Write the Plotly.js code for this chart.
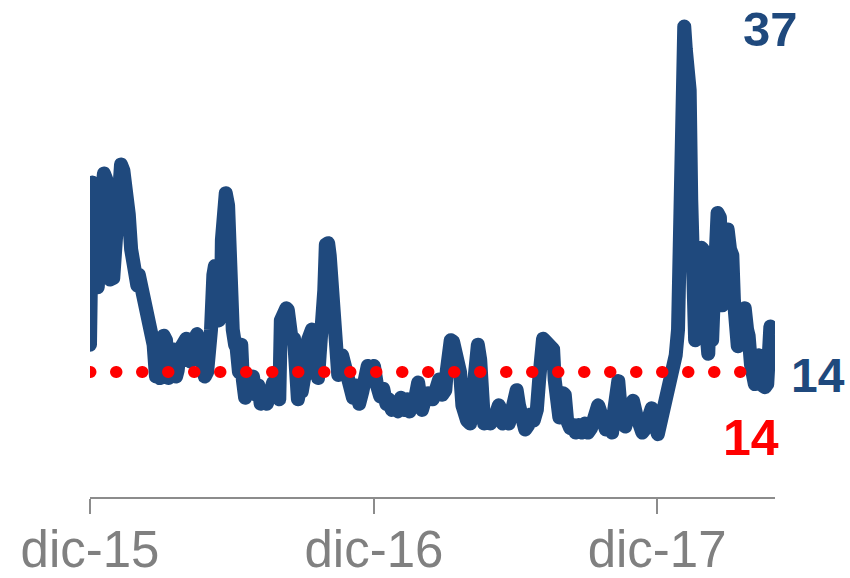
<!DOCTYPE html>
<html>
<head>
<meta charset="utf-8">
<script src="https://cdn.plot.ly/plotly-3.0.1.min.js"></script>
<style>
html, body { margin: 0; padding: 0; background: #fff; }
#chart { width: 850px; height: 578px; }
#chart .js-line { stroke-linejoin: round; stroke-linecap: round; }
</style>
</head>
<body>
<div id="chart"></div>
<script>
// Index level readings (daily-style trace), split by half-year
const datesH1_2016 = [
"2015-12-31","2016-01-01","2016-01-03","2016-01-06","2016-01-09","2016-01-10","2016-01-13","2016-01-15","2016-01-18","2016-01-21",
"2016-01-22","2016-01-23","2016-01-26","2016-01-30","2016-02-01","2016-02-04","2016-02-06","2016-02-09","2016-02-12","2016-02-14",
"2016-02-17","2016-02-19","2016-02-22","2016-02-24","2016-02-27","2016-03-01","2016-03-03","2016-03-07","2016-03-10","2016-03-12",
"2016-03-15","2016-03-17","2016-03-20","2016-03-22","2016-03-25","2016-03-28","2016-03-30","2016-04-02","2016-04-04","2016-04-07",
"2016-04-10","2016-04-12","2016-04-15","2016-04-17","2016-04-20","2016-04-22","2016-04-25","2016-04-29","2016-05-03","2016-05-05",
"2016-05-08","2016-05-10","2016-05-14","2016-05-17","2016-05-20","2016-05-22","2016-05-25","2016-05-27","2016-05-30","2016-06-01",
"2016-06-04","2016-06-07","2016-06-09","2016-06-12","2016-06-14","2016-06-17","2016-06-18","2016-06-21","2016-06-23","2016-06-26",
"2016-06-27","2016-06-30"
];
const valuesH1_2016 = [
15.8,22.1,26.5,26.3,21.4,19.6,22.1,25.7,27.1,26.7,
22.7,21.3,20.1,20.2,21.4,25.4,27.0,27.7,27.3,25.4,
25.0,24.4,22.1,21.1,21.5,19.7,20.4,19.2,18.8,19.0,
17.4,17.0,16.4,15.8,13.7,14.1,13.6,15.8,16.4,16.1,
13.6,14.0,15.5,14.8,13.7,14.1,15.5,15.8,16.2,15.1,
14.7,15.8,16.1,16.5,15.5,14.5,14.8,13.7,14.0,14.7,
16.8,20.4,21.0,19.4,17.4,18.8,22.7,25.4,25.8,25.0,
21.4,18.0
];

const datesH2_2016 = [
"2016-07-02","2016-07-05","2016-07-07","2016-07-10","2016-07-13","2016-07-15","2016-07-18","2016-07-22","2016-07-24","2016-07-28",
"2016-08-01","2016-08-04","2016-08-07","2016-08-11","2016-08-15","2016-08-19","2016-08-23","2016-08-27","2016-08-31","2016-09-02",
"2016-09-05","2016-09-09","2016-09-11","2016-09-14","2016-09-16","2016-09-19","2016-09-22","2016-09-24","2016-09-27","2016-09-29",
"2016-10-02","2016-10-04","2016-10-07","2016-10-10","2016-10-12","2016-10-15","2016-10-17","2016-10-20","2016-10-22","2016-10-25",
"2016-10-28","2016-10-30","2016-11-02","2016-11-04","2016-11-07","2016-11-10","2016-11-12","2016-11-15","2016-11-17","2016-11-20",
"2016-11-24","2016-11-28","2016-11-30","2016-12-04","2016-12-08","2016-12-12","2016-12-16","2016-12-19","2016-12-23","2016-12-27",
"2016-12-31"
];
const valuesH2_2016 = [
16.8,15.8,15.6,14.0,15.8,13.5,12.3,12.8,13.5,13.7,
12.5,13.1,11.9,12.3,11.9,12.9,13.3,12.5,12.2,17.4,
18.0,18.2,18.1,16.4,16.1,16.2,12.5,12.2,13.1,12.7,
13.6,13.8,16.1,16.8,16.8,15.5,13.7,13.6,15.1,16.8,
19.4,22.4,22.5,21.7,19.4,18.1,16.8,13.8,14.1,15.1,
14.3,14.0,12.8,12.3,13.1,11.9,12.7,13.5,14.4,14.1,
14.4
];

const datesH1_2017 = [
"2017-01-04","2017-01-08","2017-01-12","2017-01-16","2017-01-19","2017-01-23","2017-01-27","2017-01-31","2017-02-04","2017-02-08",
"2017-02-12","2017-02-15","2017-02-19","2017-02-23","2017-02-26","2017-02-28","2017-03-03","2017-03-07","2017-03-11","2017-03-13",
"2017-03-17","2017-03-21","2017-03-25","2017-03-29","2017-04-02","2017-04-04","2017-04-07","2017-04-09","2017-04-12","2017-04-14",
"2017-04-18","2017-04-21","2017-04-24","2017-04-26","2017-04-30","2017-05-04","2017-05-06","2017-05-09","2017-05-12","2017-05-14",
"2017-05-17","2017-05-19","2017-05-22","2017-05-26","2017-05-30","2017-06-02","2017-06-06","2017-06-10","2017-06-13","2017-06-15",
"2017-06-19","2017-06-23","2017-06-27"
];
const valuesH1_2017 = [
13.1,12.4,12.9,11.9,12.2,11.5,11.9,11.4,12.3,11.5,
12.2,11.4,11.8,12.5,13.3,12.5,11.5,12.2,12.6,12.5,
12.2,12.8,13.5,12.5,12.8,14.1,15.8,16.1,16.0,15.5,
15.1,14.0,11.8,11.0,10.8,10.6,11.5,14.1,15.8,15.8,
14.8,11.5,10.6,10.8,10.6,11.0,11.2,11.8,11.5,10.6,
11.0,10.6,11.4
];

const datesH2_2017 = [
"2017-07-01","2017-07-03","2017-07-06","2017-07-10","2017-07-14","2017-07-18","2017-07-21","2017-07-25","2017-07-29","2017-08-01",
"2017-08-03","2017-08-06","2017-08-08","2017-08-11","2017-08-14","2017-08-16","2017-08-19","2017-08-21","2017-08-24","2017-08-27",
"2017-08-29","2017-09-01","2017-09-03","2017-09-06","2017-09-10","2017-09-14","2017-09-17","2017-09-21","2017-09-25","2017-09-29",
"2017-10-03","2017-10-07","2017-10-11","2017-10-13","2017-10-16","2017-10-18","2017-10-22","2017-10-26","2017-10-30","2017-11-03",
"2017-11-05","2017-11-08","2017-11-11","2017-11-13","2017-11-16","2017-11-20","2017-11-23","2017-11-27","2017-11-30","2017-12-04",
"2017-12-08","2017-12-12","2017-12-15","2017-12-19","2017-12-22","2017-12-24","2017-12-27","2017-12-30"
];
const valuesH2_2017 = [
12.5,12.8,11.8,10.8,10.2,10.5,11.2,10.8,11.5,13.5,
15.8,16.2,16.1,16.0,15.8,15.6,15.5,13.5,11.2,11.0,
12.2,12.6,12.5,10.8,10.3,10.5,10.0,10.5,10.0,10.6,
10.0,10.3,10.8,11.5,11.8,11.5,10.5,10.2,10.4,10.0,
11.2,12.8,13.4,12.2,10.5,10.4,11.0,11.8,12.1,11.2,
10.3,10.0,10.2,10.8,11.4,11.6,10.8,10.0
];

const datesH1_2018 = [
"2018-01-01","2018-01-05","2018-01-09","2018-01-13","2018-01-17","2018-01-19","2018-01-22","2018-01-24","2018-01-27","2018-01-30",
"2018-02-01","2018-02-04","2018-02-06","2018-02-09","2018-02-11","2018-02-13","2018-02-14","2018-02-17","2018-02-18","2018-02-20",
"2018-02-23","2018-02-26","2018-02-28","2018-03-01","2018-03-04","2018-03-07","2018-03-09","2018-03-12","2018-03-14","2018-03-17",
"2018-03-19","2018-03-22","2018-03-25","2018-03-27","2018-03-30","2018-04-01","2018-04-04","2018-04-07","2018-04-09","2018-04-12",
"2018-04-14","2018-04-17","2018-04-21","2018-04-23","2018-04-26","2018-04-28","2018-05-01","2018-05-04","2018-05-06","2018-05-09",
"2018-05-11","2018-05-14","2018-05-16","2018-05-19","2018-05-22","2018-05-24","2018-05-26","2018-05-27"
];
const valuesH1_2018 = [
9.9,10.8,11.6,12.5,13.0,13.5,14.8,15.1,16.8,27.3,
35.9,36.8,35.3,32.9,32.6,25.4,19.4,18.8,16.1,16.4,
20.7,22.2,22.1,18.8,15.5,15.2,18.8,16.1,18.8,22.7,
24.5,24.2,18.4,20.1,23.0,23.4,22.1,21.7,18.8,16.1,
15.7,16.8,18.0,18.2,16.8,16.4,14.5,13.8,13.2,13.5,
15.1,14.8,13.1,13.0,13.2,16.1,17.0,16.9
];

// Reference (average) level
const avgDates = ["2015-12-31", "2018-05-10"];
const avgValues = [14, 14];

// Axis ticks
const tickDates = ["2015-12-31", "2016-12-31", "2017-12-31"];
const tickLabels = ["dic-15", "dic-16", "dic-17"];

// Value labels
const maxLabel = "37";
const lastLabel = "14";
const avgLabel = "14";

const dates = [].concat(datesH1_2016, datesH2_2016, datesH1_2017, datesH2_2017, datesH1_2018);
const values = [].concat(valuesH1_2016, valuesH2_2016, valuesH1_2017, valuesH2_2017, valuesH1_2018);

const blue = "#1F497D";
const red = "#FF0000";
const grey = "#808080";
const axisGrey = "#8c8c8c";
const fontFam = "Liberation Sans, Arial, sans-serif";

const traces = [
  {
    x: dates, y: values, type: "scatter", mode: "lines",
    line: { color: blue, width: 14 },
    hoverinfo: "skip"
  },
  {
    x: avgDates, y: avgValues, type: "scatter", mode: "lines",
    line: { color: red, width: 12, dash: "0.5px,25.5px" },
    hoverinfo: "skip"
  }
];

const layout = {
  width: 850, height: 578,
  margin: { l: 90, r: 75, t: 0, b: 81, pad: 0 },
  paper_bgcolor: "#ffffff", plot_bgcolor: "#ffffff",
  showlegend: false,
  xaxis: {
    type: "date",
    range: ["2015-12-31", "2018-06-01"],
    tickmode: "array", tickvals: tickDates, ticktext: tickLabels,
    ticks: "outside", ticklen: 15, tickwidth: 1.5, tickcolor: axisGrey,
    ticklabelstandoff: -8,
    showline: true, linecolor: axisGrey, linewidth: 1.5,
    showgrid: false, zeroline: false,
    tickfont: { family: fontFam, size: 51, color: grey }
  },
  yaxis: {
    range: [5.75, 38.55],
    visible: false, showgrid: false, zeroline: false
  },
  annotations: [
    { xref: "paper", yref: "paper", x: (770 - 90) / 685, y: (497 - 29) / 497,
      xanchor: "center", yanchor: "middle", showarrow: false, text: maxLabel,
      font: { family: fontFam, size: 49, color: blue, weight: "bold" } },
    { xref: "paper", yref: "paper", x: (818 - 90) / 685, y: (497 - 375) / 497,
      xanchor: "center", yanchor: "middle", showarrow: false, text: lastLabel,
      font: { family: fontFam, size: 48, color: blue, weight: "bold" } },
    { xref: "paper", yref: "paper", x: (751 - 90) / 685, y: (497 - 438) / 497,
      xanchor: "center", yanchor: "middle", showarrow: false, text: avgLabel,
      font: { family: fontFam, size: 50, color: red, weight: "bold" } }
  ]
};

Plotly.newPlot("chart", traces, layout, { staticPlot: true, displayModeBar: false });
</script>
</body>
</html>
